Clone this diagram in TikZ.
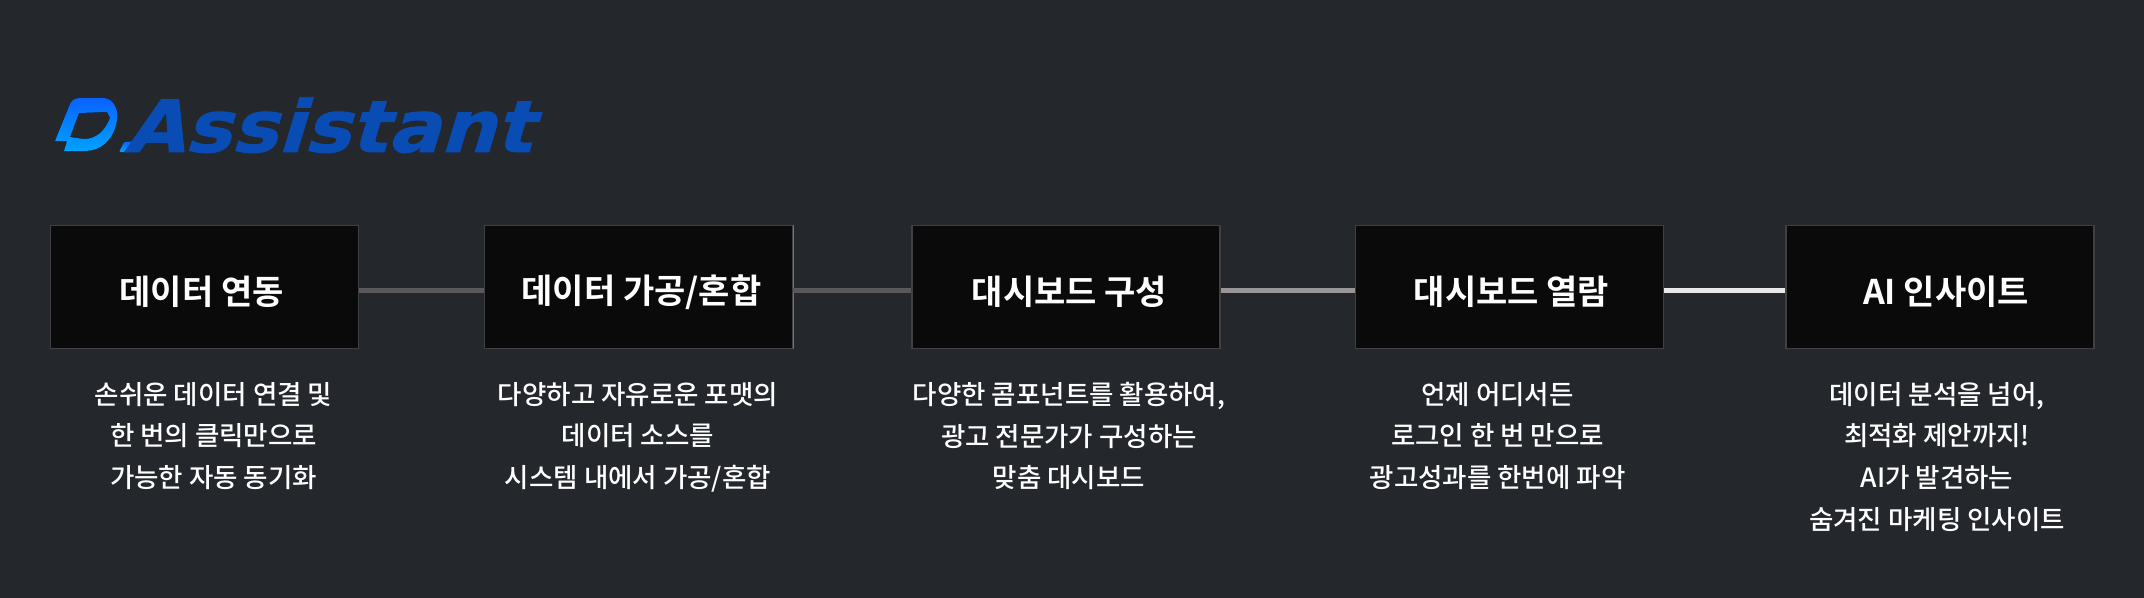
\documentclass[tikz,border=0pt]{standalone}
\usepackage{fontspec}
\setmainfont{Noto Sans CJK KR}[UprightFont=* Medium,BoldFont=* Bold]
\newfontfamily\logofont{DejaVu Sans}[BoldFeatures={FakeBold=1.2}]
\definecolor{pagebg}{HTML}{24272C}
\definecolor{boxfill}{HTML}{0A0A0B}
\definecolor{boxline}{HTML}{3E4044}
\definecolor{boxedge}{HTML}{747476}
\definecolor{logoblue}{HTML}{084CB4}
\definecolor{logotop}{HTML}{0A62FF}
\definecolor{logobot}{HTML}{00A2FF}
\definecolor{linedark}{HTML}{5A585A}
\definecolor{linemid}{HTML}{9A9697}
\definecolor{linelight}{HTML}{E8E8E8}
\tikzset{
  stepbox/.style={draw=boxline,fill=boxfill,line width=1.2pt,minimum width=308pt,minimum height=123pt,inner sep=0pt},
  steptitle/.style={text=white,font=\fontsize{34}{40}\selectfont\bfseries,inner sep=0pt},
  stepnote/.style={text=white,align=center,font=\fontsize{26.5}{41.6}\selectfont,inner sep=0pt,anchor=north},
  stepline/.style={line width=5pt}
}
\begin{document}
\begin{tikzpicture}[x=1pt,y=-1pt]
\useasboundingbox (0,0) rectangle (2144,597);
\fill[pagebg] (-5,-5) rectangle (2149,602);
% logo
\fill[top color=logotop,bottom color=logobot,even odd rule]
  (80,98) -- (103,98) .. controls (109,98) and (113,101) .. (116,108)
  .. controls (118,113) and (118,118) .. (116,125)
  .. controls (112,141) and (100,151) .. (85,151) -- (64,151) -- (67,141) -- (55,141) -- (70,104)
  .. controls (72,100) and (75,98) .. (80,98) -- cycle
  (79,113) -- (70,137) -- (84,139) .. controls (96,139) and (105,131) .. (110,118) -- (107,112) -- cycle;
\fill[top color=logotop,bottom color=logobot,rounded corners=1pt] (124,142) -- (135,141) -- (132,152) -- (119,152) -- cycle;
\node[text=logoblue,font=\logofont\bfseries\fontsize{72}{72}\selectfont,inner sep=0pt,anchor=base west,xslant=0.3,xscale=1.08,transform shape] (logotext) at (124,152) {Assistant};
% boxes
\node[stepbox] (box1) at (204.5,287) {};
\node[stepbox] (box2) at (638.5,287) {};
\node[stepbox] (box3) at (1066,287) {};
\node[stepbox] (box4) at (1509.5,287) {};
\node[stepbox] (box5) at (1940,287) {};
\draw[boxedge,line width=1.2pt] (box2.north east) -- (box2.south east);
% titles
\node[steptitle] (title1) at (201.5,292) {데이터 연동};
\node[steptitle] (title2) at (641.5,292) {데이터 가공/혼합};
\node[steptitle] (title3) at (1069.5,292) {대시보드 구성};
\node[steptitle] (title4) at (1511.5,292) {대시보드 열람};
\node[steptitle] (title5) at (1946,292) {AI 인사이트};
% notes
\node[stepnote] (note1) at (213.5,382) {손쉬운 데이터 연결 및\\한 번의 클릭만으로\\가능한 자동 동기화};
\node[stepnote] (note2) at (638,382) {다양하고 자유로운 포맷의\\데이터 소스를\\시스템 내에서 가공/혼합};
\node[stepnote] (note3) at (1069,382) {다양한 콤포넌트를 활용하여,\\광고 전문가가 구성하는\\맞춤 대시보드};
\node[stepnote] (note4) at (1497.5,382) {언제 어디서든\\로그인 한 번 만으로\\광고성과를 한번에 파악};
\node[stepnote] (note5) at (1937,382) {데이터 분석을 넘어,\\최적화 제안까지!\\AI가 발견하는\\숨겨진 마케팅 인사이트};
% connectors
\draw[stepline,linedark] ([yshift=-3pt]box1.east) -- ([yshift=-3pt]box2.west);
\draw[stepline,linedark] ([yshift=-3pt]box2.east) -- ([yshift=-3pt]box3.west);
\draw[stepline,linemid] ([yshift=-3pt]box3.east) -- ([yshift=-3pt]box4.west);
\draw[stepline,linelight] ([yshift=-3pt]box4.east) -- ([yshift=-3pt]box5.west);
\end{tikzpicture}
\end{document}
